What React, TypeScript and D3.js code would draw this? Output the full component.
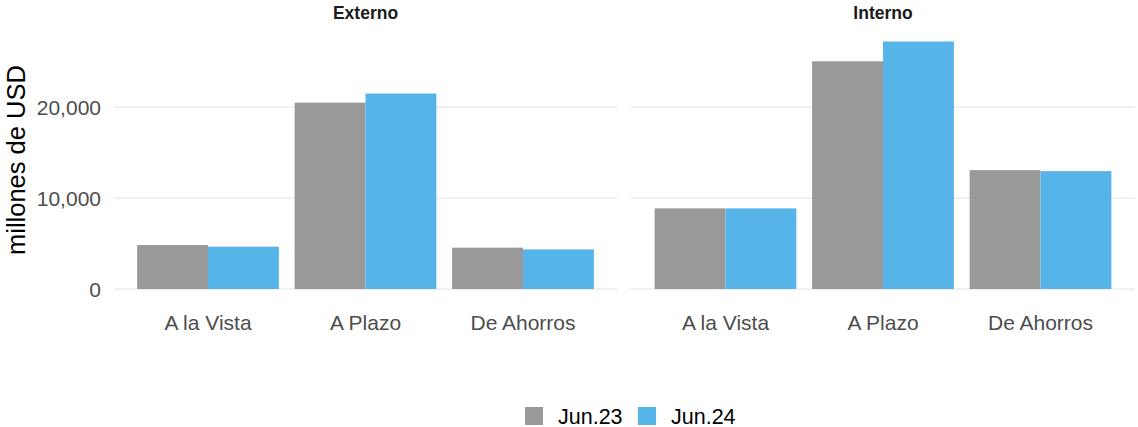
import React from "react";
import * as d3 from "d3";

const panels = ["Externo", "Interno"];
const categories = ["A la Vista", "A Plazo", "De Ahorros"];
const seriesNames = ["Jun.23", "Jun.24"];
const externoJun23 = [4830, 20480, 4540];
const externoJun24 = [4650, 21480, 4350];
const internoJun23 = [8860, 25020, 13060];
const internoJun24 = [8860, 27200, 12950];
const yTicks = [0, 10000, 20000];
const colors = ["#999999", "#56B4E9"];

const panelData: Record<string, number[][]> = {
  Externo: [externoJun23, externoJun24],
  Interno: [internoJun23, internoJun24],
};

const W = 1138;
const H = 427;
const panelRanges: [number, number][] = [
  [113.5, 617.5],
  [631, 1135],
];
const yZero = 289;
const ppu = 91 / 10000;

export default function App() {
  const allVals = [...externoJun23, ...externoJun24, ...internoJun23, ...internoJun24];
  const yMax = (d3.max(allVals) as number) * 1.05;
  const y = d3.scaleLinear().domain([0, yMax]).range([yZero, yZero - yMax * ppu]);
  const fmt = d3.format(",");
  const font = "Liberation Sans, Arial, sans-serif";

  return (
    <svg
      width={W}
      height={H}
      style={{ position: "absolute", left: 0, top: 0, background: "#fff" }}
      fontFamily={font}
    >
      <rect x={0} y={0} width={W} height={H} fill="#fff" />
      {panels.map((p, pi) => {
        const x = d3
          .scaleBand<string>()
          .domain(categories)
          .range(panelRanges[pi])
          .paddingInner(0.1)
          .paddingOuter(0.15);
        const xs = d3.scaleBand<string>().domain(seriesNames).range([0, x.bandwidth()]).padding(0);
        const [x0, x1] = panelRanges[pi];
        return (
          <g key={p}>
            {yTicks.map((t) => (
              <line key={t} x1={x0} x2={x1} y1={y(t)} y2={y(t)} stroke="#ebebeb" strokeWidth={1.5} />
            ))}
            {seriesNames.map((s, si) =>
              categories.map((c, ci) => {
                const v = panelData[p][si][ci];
                return (
                  <rect
                    key={s + c}
                    x={(x(c) as number) + (xs(s) as number)}
                    y={y(v)}
                    width={xs.bandwidth()}
                    height={y(0) - y(v)}
                    fill={colors[si]}
                  />
                );
              })
            )}
            <text
              x={(x0 + x1) / 2}
              y={19}
              textAnchor="middle"
              fontWeight="bold"
              fontSize={17.5}
              fill="#1a1a1a"
            >
              {p}
            </text>
            {categories.map((c) => (
              <text
                key={c}
                x={(x(c) as number) + x.bandwidth() / 2}
                y={330}
                textAnchor="middle"
                fontSize={21}
                fill="#4d4d4d"
              >
                {c}
              </text>
            ))}
          </g>
        );
      })}
      {yTicks.map((t) => (
        <text key={t} x={101} y={y(t) + 7.5} textAnchor="end" fontSize={21} fill="#4d4d4d">
          {fmt(t)}
        </text>
      ))}
      <text
        transform={`translate(25, ${(y(0) + y(yMax)) / 2 + 1}) rotate(-90)`}
        textAnchor="middle"
        fontSize={25.5}
        fill="#000"
      >
        millones de USD
      </text>
      {seriesNames.map((s, si) => {
        const lx = [525, 638][si];
        return (
          <g key={s}>
            <rect x={lx} y={407} width={18} height={18} fill={colors[si]} />
            <text x={lx + 33} y={423.5} fontSize={21.5} fill="#000">
              {s}
            </text>
          </g>
        );
      })}
    </svg>
  );
}
